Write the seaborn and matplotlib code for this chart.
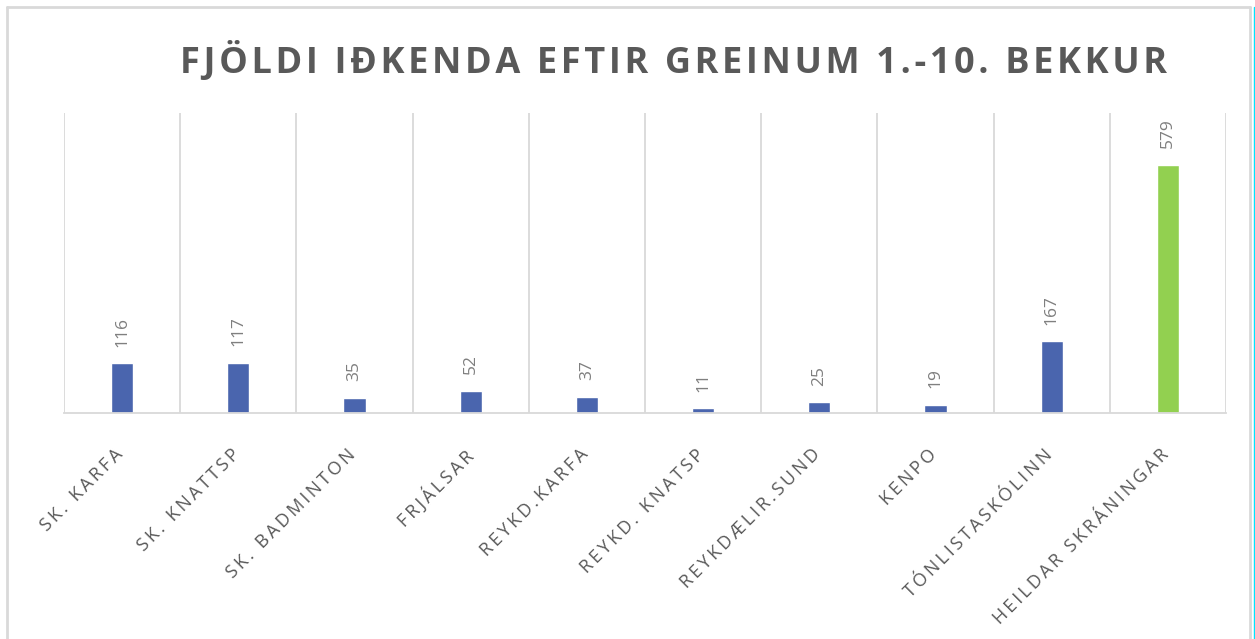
import matplotlib.pyplot as plt
import matplotlib.transforms as mtransforms
import seaborn as sns
from matplotlib.lines import Line2D

categories = ['SK. KARFA', 'SK. KNATTSP', 'SK. BADMINTON', 'FRJÁLSAR', 'REYKD.KARFA',
              'REYKD. KNATSP', 'REYKDÆLIR.SUND', 'KENPO', 'TÓNLISTASKÓLINN',
              'HEILDAR SKRÁNINGAR']
values = [116, 117, 35, 52, 37, 11, 25, 19, 167, 579]
title = 'FJÖLDI IÐKENDA EFTIR GREINUM 1.-10. BEKKUR'

BLUE = '#4A65AE'
GREEN = '#92D050'
GRID = '#D9D9D9'
TEXT = '#595959'

sns.set_style('white')
plt.rcParams['font.family'] = ['Open Sans', 'DejaVu Sans']


def spaced(s, sep='\u2009'):
    # extra space between letters, like the letter spacing in the original
    return sep.join(s)


fig = plt.figure(figsize=(12.55, 6.39), dpi=100)
W, H = 1255, 639
ax = fig.add_axes([64 / W, 1 - 413 / H, (1226 - 64) / W, (413 - 113) / H])

colors = [BLUE] * (len(values) - 1) + [GREEN]
sns.barplot(x=categories, y=values, hue=categories, palette=colors, legend=False,
            width=0.19, saturation=1, ax=ax)

ax.set_ylim(0, 700)
ax.set_xlim(-0.5, len(categories) - 0.5)

# vertical gridlines between categories
for i in range(len(categories) + 1):
    ax.axvline(i - 0.5, color=GRID, lw=1.3, zorder=0)

for s in ['top', 'right', 'left']:
    ax.spines[s].set_visible(False)
ax.spines['bottom'].set_color(GRID)
ax.spines['bottom'].set_linewidth(1.3)
ax.set_yticks([])
ax.set_ylabel('')
ax.tick_params(axis='x', length=0, pad=22)
ax.set_xticks(range(len(categories)))
ax.set_xticklabels([spaced(c) for c in categories], rotation=45, ha='right',
                   rotation_mode='anchor', fontsize=13, color=TEXT)
shift = mtransforms.ScaledTranslation(-0.08, -0.02, fig.dpi_scale_trans)
for lab in ax.get_xticklabels():
    lab.set_transform(lab.get_transform() + shift)

for i, v in enumerate(values):
    ax.annotate(str(v), (i, v), xytext=(0, 12), textcoords='offset points',
                rotation=90, ha='center', va='bottom', fontsize=12.5, color='#7F7F7F')

fig.text(673 / W, 1 - 62 / H, spaced(title, '\u200a'), ha='center', va='center',
         fontsize=26, fontweight='bold', color=TEXT)

# chart frame
fig.add_artist(Line2D([7 / W, 7 / W], [0, 1 - 7 / H], transform=fig.transFigure,
                      color=GRID, lw=2))
fig.add_artist(Line2D([7 / W, 1250 / W], [1 - 7 / H, 1 - 7 / H], transform=fig.transFigure,
                      color=GRID, lw=2))
fig.add_artist(Line2D([1250 / W, 1250 / W], [0, 1 - 7 / H], transform=fig.transFigure,
                      color=GRID, lw=2))
fig.add_artist(Line2D([1253.5 / W, 1253.5 / W], [0, 1 - 7 / H], transform=fig.transFigure,
                      color='#00E5FF', lw=1))

fig.savefig('out.png', dpi=100)
